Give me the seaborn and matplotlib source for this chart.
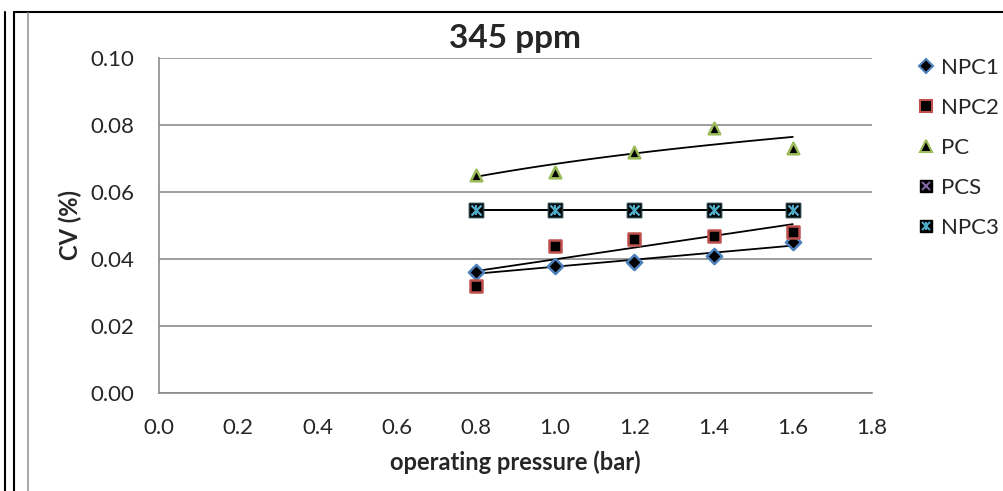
import numpy as np
import pandas as pd
import matplotlib
matplotlib.use('Agg')
import matplotlib.pyplot as plt
from matplotlib.lines import Line2D
from matplotlib.legend_handler import HandlerTuple
import seaborn as sns

# values
pressure = [0.8, 1.0, 1.2, 1.4, 1.6]
npc1 = [0.036, 0.038, 0.039, 0.041, 0.045]
npc2 = [0.032, 0.044, 0.046, 0.047, 0.048]
pc = [0.065, 0.066, 0.072, 0.079, 0.073]
pcs = [0.0545, 0.0545, 0.0545, 0.0545, 0.0545]
npc3 = [0.0545, 0.0545, 0.0545, 0.0545, 0.0545]
series_names = ['NPC1', 'NPC2', 'PC', 'PCS', 'NPC3']
x_ticks = [0.0, 0.2, 0.4, 0.6, 0.8, 1.0, 1.2, 1.4, 1.6, 1.8]
y_ticks = [0.00, 0.02, 0.04, 0.06, 0.08, 0.10]

df = pd.DataFrame({'pressure': pressure * 5,
                   'cv': npc1 + npc2 + pc + pcs + npc3,
                   'series': [s for s in series_names for _ in pressure]})

sns.set_style('white')
plt.rcParams['font.family'] = ['Lato', 'DejaVu Sans']

fig = plt.figure(figsize=(10.04, 4.91), dpi=100)
ax = fig.add_axes([159 / 1004, 1 - 393 / 491, (872 - 159) / 1004, (393 - 58) / 491])

# trendlines (linear, log for PC)
xs = np.array(pressure)
for name, vals in zip(series_names, [npc1, npc2, pc, pcs, npc3]):
    if name == 'PC':
        k = np.polyfit(np.log(xs), vals, 1)
        xf = np.linspace(0.8, 1.6, 50)
        sns.lineplot(x=xf, y=k[0] * np.log(xf) + k[1], ax=ax, color='black', lw=1.3)
    else:
        k = np.polyfit(xs, vals, 1)
        sns.lineplot(x=xs, y=np.polyval(k, xs), ax=ax, color='black', lw=1.3)

edge = {'NPC1': '#4F81BD', 'NPC2': '#C0504D', 'PC': '#9BBB59', 'PCS': '#8064A2', 'NPC3': '#4BACC6'}
mk = {'NPC1': 'D', 'NPC2': 's', 'PC': '^'}
for name in ['NPC1', 'NPC2', 'PC']:
    d = df[df.series == name]
    sns.scatterplot(data=d, x='pressure', y='cv', ax=ax, marker=mk[name], s=70 if name != 'NPC1' else 60,
                    color='black', edgecolor=edge[name], linewidth=1.8, zorder=4)
for name in ['PCS', 'NPC3']:
    d = df[df.series == name]
    sns.scatterplot(data=d, x='pressure', y='cv', ax=ax, marker='s', s=90, color='black',
                    edgecolor='#1f3a40', linewidth=1, zorder=5)
    sns.scatterplot(data=d, x='pressure', y='cv', ax=ax, marker='x', s=50, color=edge[name], linewidth=1.5, zorder=6)
    if name == 'NPC3':
        sns.scatterplot(data=d, x='pressure', y='cv', ax=ax, marker='|', s=50, color=edge[name], linewidth=1.5, zorder=6)

ax.set_xlim(0, 1.8)
ax.set_ylim(0, 0.10)
ax.set_xticks(x_ticks)
ax.set_xticklabels([f'{v:.1f}' for v in x_ticks])
ax.set_yticks(y_ticks)
ax.set_yticklabels([f'{v:.2f}' for v in y_ticks])
ax.tick_params(labelsize=16, length=0)
ax.tick_params(axis='y', pad=18)
ax.tick_params(axis='x', pad=18)
ax.grid(axis='y', color='#8c8c8c', lw=1.2)
ax.grid(axis='x', visible=False)
for s in ['top', 'right']:
    ax.spines[s].set_visible(False)
for s in ['left', 'bottom']:
    ax.spines[s].set_color('#8c8c8c')
    ax.spines[s].set_linewidth(1.2)

ax.set_title('345 ppm', fontsize=24, fontweight='bold', pad=7)
ax.set_xlabel('operating pressure (bar)', fontsize=17, fontweight='bold', labelpad=9)
ax.set_ylabel('CV (%)', fontsize=17, fontweight='bold', labelpad=6)

# legend
handles = [
    Line2D([], [], ls='', marker='D', ms=7, mfc='black', mec=edge['NPC1'], mew=1.5),
    Line2D([], [], ls='', marker='s', ms=8, mfc='black', mec=edge['NPC2'], mew=1.5),
    Line2D([], [], ls='', marker='^', ms=8, mfc='black', mec=edge['PC'], mew=1.5),
    (Line2D([], [], ls='', marker='s', ms=8, mfc='black', mec='black'),
     Line2D([], [], ls='', marker='x', ms=6, mec=edge['PCS'], mew=1.5)),
    (Line2D([], [], ls='', marker='s', ms=8, mfc='black', mec='black'),
     Line2D([], [], ls='', marker='x', ms=6, mec=edge['NPC3'], mew=1.5),
     Line2D([], [], ls='', marker='|', ms=6, mec=edge['NPC3'], mew=1.5)),
]
fig.legend(handles, series_names, loc='upper left', bbox_to_anchor=(897 / 1004, 1 - 38 / 491),
           frameon=False, fontsize=16, labelspacing=0.9, handlelength=0.8, handletextpad=0.3,
           handler_map={tuple: HandlerTuple(ndivide=1, pad=0)})

# outer frames
fig.add_artist(Line2D([5 / 1004, 5 / 1004], [0, 1 - 12 / 491], color='black', lw=1.5))
fig.add_artist(Line2D([14 / 1004, 14 / 1004], [0, 1 - 12 / 491], color='black', lw=1.5))
fig.add_artist(Line2D([14 / 1004, 1], [1 - 12 / 491, 1 - 12 / 491], color='black', lw=1.5))
fig.add_artist(Line2D([28 / 1004, 28 / 1004], [0, 1 - 13 / 491], color='#999999', lw=1.2))

fig.savefig('out.png', dpi=100)
